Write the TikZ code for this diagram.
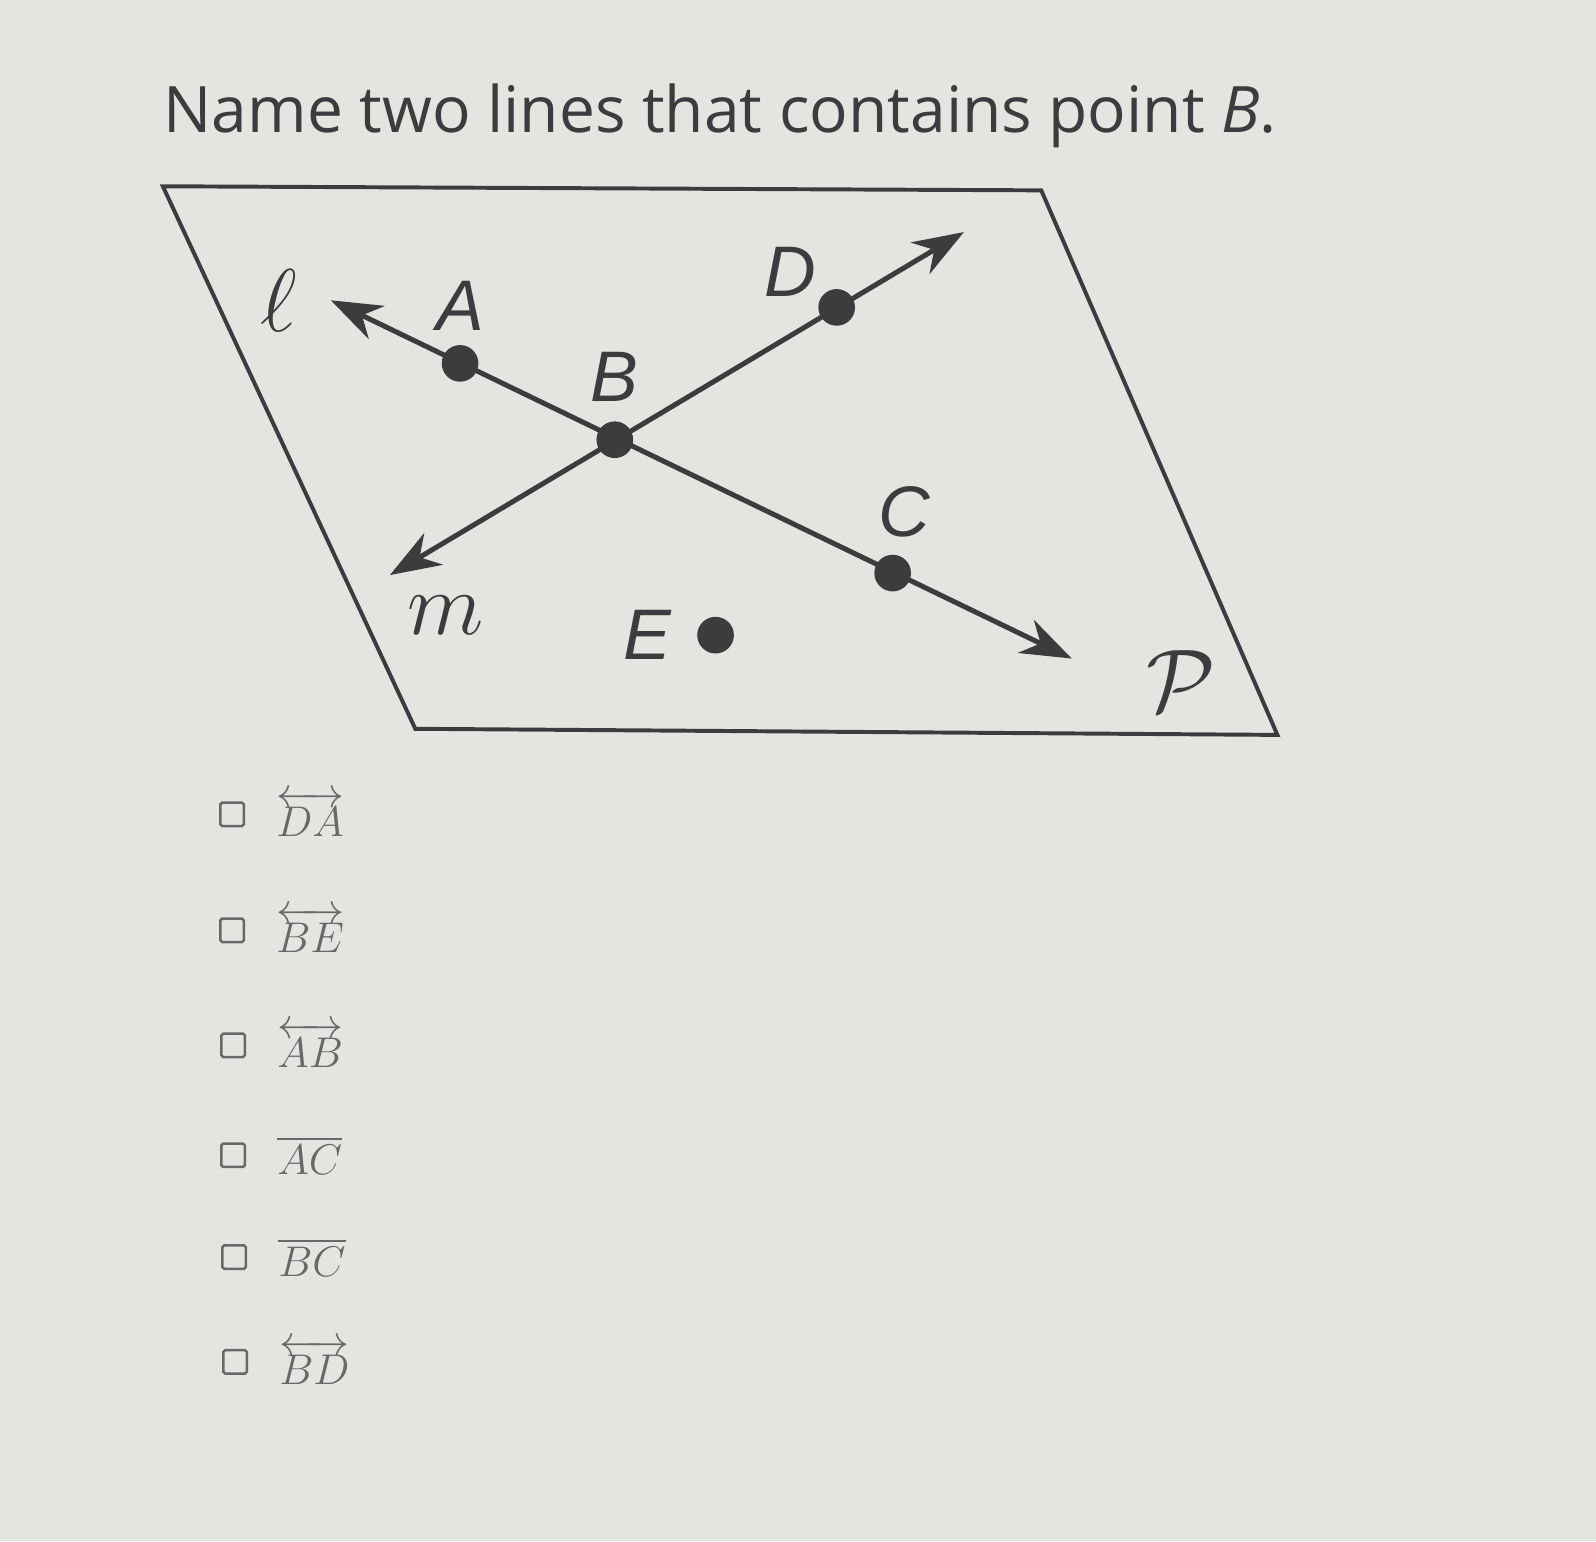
\documentclass[tikz,border=0pt]{standalone}
\usepackage{amsmath}
\usepackage[no-math]{fontspec}
\setmainfont{Open Sans}
\newfontfamily\labelfont{Liberation Sans}
\usetikzlibrary{arrows.meta,positioning}

\definecolor{paper}{RGB}{228,228,224}
\definecolor{ink}{RGB}{60,60,62}
\definecolor{faded}{RGB}{104,104,106}

\begin{document}
\begin{tikzpicture}[x=0.01cm,y=-0.01cm,
  rayline/.style={ink,line width=1.4pt,{Stealth[length=5mm,width=3.6mm,inset=1.6mm]}-{Stealth[length=5mm,width=3.6mm,inset=1.6mm]}},
  pt/.style={circle,fill=ink,inner sep=0pt,minimum size=3.6mm},
  ptlabel/.style={font=\labelfont\itshape\fontsize{20}{20}\selectfont,text=ink,inner sep=0pt},
  linelabel/.style={font=\fontsize{23}{23}\selectfont,text=ink,inner sep=0pt},
  tickbox/.style={draw=faded,rounded corners=0.5pt,line width=0.7pt,minimum size=2.3mm,inner sep=0pt},
  choice/.style={font=\fontsize{11.5}{11.5}\selectfont,text=faded,inner sep=0pt}]

  \fill[paper] (0,0) rectangle (1568,1514);

  \node[anchor=base west,font=\fontsize{17.9}{17.9}\selectfont,text=ink,inner sep=0pt] (question) at (160,130)
    {Name two lines that contains point \textit{B}.};

  % plane P
  \coordinate (p1) at (160,183);
  \coordinate (p2) at (1023,187);
  \coordinate (p3) at (1255,722);
  \coordinate (p4) at (408,716);
  \draw[ink,line width=1.1pt] (p1) -- (p2) -- (p3) -- (p4) -- cycle;

  % ends of lines l and m
  \coordinate (l1) at (325,295);
  \coordinate (l2) at (1053,647);
  \coordinate (m1) at (947,228);
  \coordinate (m2) at (383,565);
  \draw[rayline] (l1) -- (l2);
  \draw[rayline] (m1) -- (m2);

  \node[pt] (A) at (452,357) {};
  \node[pt] (B) at (604,432) {};
  \node[pt] (C) at (877,563) {};
  \node[pt] (D) at (822,302) {};
  \node[pt] (E) at (703,624) {};

  \node[ptlabel] (labA) [above=3.2mm of A.center] {A};
  \node[ptlabel] (labB) [above=3.7mm of B.center] {B};
  \node[ptlabel] (labC) [above=3.5mm of C.center,xshift=1.1mm] {C};
  \node[ptlabel] (labD) [above left=1mm and 1.9mm of D.center] {D};
  \node[ptlabel] (labE) [left=4.3mm of E.center] {E};
  \node[linelabel] (labl) [left=3.2mm of l1] {$\ell$};
  \node[linelabel] (labm) [below right=2mm and 1.7mm of m2] {$m$};
  \node[linelabel] (labP) [above left=2.2mm and 6mm of p3] {$\mathcal{P}$};

  % answer choices
  \node[tickbox] (box1) at (228,800) {};
  \node[tickbox] (box2) at (228,914) {};
  \node[tickbox] (box3) at (229,1027) {};
  \node[tickbox] (box4) at (229,1135) {};
  \node[tickbox] (box5) at (230,1235) {};
  \node[tickbox] (box6) at (231,1338) {};
  \node[choice] (ch1) [right=3mm of box1] {$\overleftrightarrow{DA}$};
  \node[choice] (ch2) [right=3mm of box2] {$\overleftrightarrow{BE}$};
  \node[choice] (ch3) [right=3mm of box3] {$\overleftrightarrow{AB}$};
  \node[choice] (ch4) [right=3mm of box4] {$\overline{AC}$};
  \node[choice] (ch5) [right=3mm of box5] {$\overline{BC}$};
  \node[choice] (ch6) [right=3mm of box6] {$\overleftrightarrow{BD}$};
\end{tikzpicture}
\end{document}
